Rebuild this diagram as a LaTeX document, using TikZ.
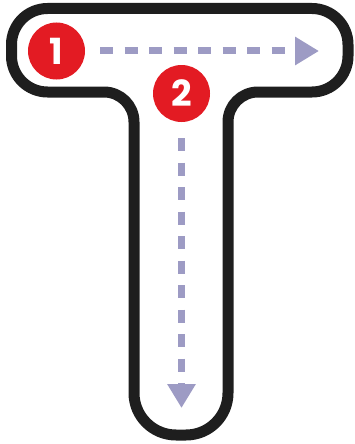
\documentclass[tikz,border=0pt]{standalone}
\usepackage{fontspec}
\setmainfont{Poppins}
\usepackage{tikz}
\usetikzlibrary{positioning,arrows.meta}
\definecolor{ink}{HTML}{1E1E1E}
\definecolor{badge}{HTML}{E31B23}
\definecolor{lav}{HTML}{9D9BC4}
\tikzset{
  outline/.style={draw=ink,line width=11pt,line join=round},
  numdot/.style={circle,fill=badge,text=white,minimum size=57pt,inner sep=0pt,
    font=\fontsize{36}{36}\selectfont\bfseries},
  path/.style={draw=lav,line width=7pt,dash pattern=on 13pt off 11.5pt,
    -{Triangle[length=24pt,width=27pt]}},
}

\begin{document}
\begin{tikzpicture}[x=1pt,y=-1pt]
  \useasboundingbox (0,0) rectangle (355,444);
  % T outline
  \draw[outline] (180,8.5) [rounded corners=36pt] -- (348,8.5) -- (348,92)
    [rounded corners=30pt] -- (228,92) [rounded corners=42pt] -- (228,435)
    -- (134,435) [rounded corners=30pt] -- (134,92) [rounded corners=36pt]
    -- (11.5,92) -- (11.5,8.5) -- cycle;
  \node[numdot] (one) at (56.5,51) {1};
  \node[numdot] (two) at (181.5,93.5) {2};
  \coordinate (endone) at (319,51);
  \coordinate (endtwo) at (181.5,408);
  \draw[path,shorten <=15pt] (one.east) -- (endone);
  \draw[path,shorten <=16pt] (two.south) -- (endtwo);
\end{tikzpicture}
\end{document}
